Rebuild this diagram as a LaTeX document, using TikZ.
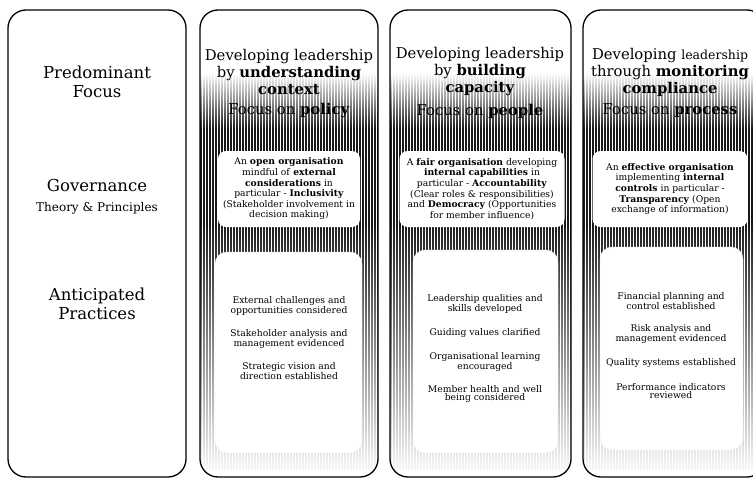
\documentclass[tikz,border=0pt]{standalone}
\usepackage{fontspec}
\setmainfont{DejaVu Serif}
\usetikzlibrary{positioning,fadings}
\tikzfading[name=fadeup, top color=transparent!100, bottom color=transparent!10]
\tikzfading[name=fadedown, top color=transparent!12, bottom color=transparent!97]

\begin{document}
\begin{tikzpicture}[x=1pt,y=-1pt,
  colbox/.style={draw,line width=1.3pt,rounded corners=18pt},
  stripe/.style={line width=1.2pt},
  sidetext/.style={align=center,inner sep=0pt,font=\fontsize{16.5}{19}\selectfont},
  headtext/.style={align=center,inner sep=0pt,font=\fontsize{14.8}{17}\selectfont},
  govbox/.style={fill=white,rounded corners=8pt,align=center,inner sep=0pt,
    font=\fontsize{9.2}{10.6}\selectfont},
  pracbox/.style={fill=white,draw=black!8,rounded corners=12pt},
  practext/.style={align=center,inner sep=0pt,font=\fontsize{9.2}{8.6}\selectfont}]
\useasboundingbox (0,0) rectangle (753,479);

% striped background of the three columns
\foreach \l/\r in {200/378,390/571,583/765}{
  \begin{scope}
    \clip[rounded corners=18pt] (\l,10) rectangle (\r,477);
    \draw[stripe,path fading=fadeup] foreach \x in {1,4,...,190} {(\l+\x,74) -- (\l+\x,128)};
    \draw[stripe,opacity=0.9] foreach \x in {1,4,...,190} {(\l+\x,128) -- (\l+\x,228)};
    \draw[stripe,path fading=fadedown] foreach \x in {1,4,...,190} {(\l+\x,228) -- (\l+\x,470)};
  \end{scope}
  \draw[colbox] (\l,10) rectangle (\r,477);
}
\draw[colbox] (8,10) rectangle (186,477);

% left column
\node[sidetext] (focus) at (97,82) {Predominant\\Focus};
\node[sidetext] (gov) at (97,185) {Governance};
\node[font=\fontsize{12}{14}\selectfont,inner sep=0pt] (theory) at (97,208) {Theory \& Principles};
\node[sidetext] (antic) at (97,304) {Anticipated\\Practices};

% headers
\node[headtext] (head1) at (289,72) {Developing leadership\\by \textbf{understanding}\\\textbf{context}};
\node[headtext] (pol) at (289,111) {Focus on \textbf{policy}};
\node[headtext] (head2) at (480,72) {Developing leadership\\by \textbf{building}\\\textbf{capacity}};
\node[headtext] (peo) at (480,111) {Focus on \textbf{people}};
\node[headtext] (head3) at (670,72) {Developing {\fontsize{12.5}{14}\selectfont leadership}\\through \textbf{monitoring}\\\textbf{compliance}};
\node[headtext] (pro) at (670,111) {Focus on \textbf{process}};

% governance boxes
\node[govbox,minimum width=142pt,minimum height=76pt] (gov1) at (289,189)
  {An \textbf{open organisation}\\mindful of \textbf{external}\\\textbf{considerations} in\\particular - \textbf{Inclusivity}\\(Stakeholder involvement in\\decision making)};
\node[govbox,minimum width=165pt,minimum height=76pt] (gov2) at (482,189)
  {A \textbf{fair organisation} developing\\\textbf{internal capabilities} in\\particular - \textbf{Accountability}\\(Clear roles \& responsibilities)\\and \textbf{Democracy} (Opportunities\\for member influence)};
\node[govbox,minimum width=155pt,minimum height=76pt] (gov3) at (670,189)
  {An \textbf{effective organisation}\\implementing \textbf{internal}\\\textbf{controls} in particular -\\\textbf{Transparency} (Open\\exchange of information)};

% practice boxes
\draw[pracbox] (215,252) rectangle (362,453);
\draw[pracbox] (413,250) rectangle (558,453);
\draw[pracbox] (600,247) rectangle (743,450);

\node[practext] (p11) at (289,306) {External challenges and\\opportunities considered};
\node[practext] (p12) at (289,339) {Stakeholder analysis and\\management evidenced};
\node[practext] (p13) at (289,371) {Strategic vision and\\direction established};

\node[practext] (p21) at (485,304) {Leadership qualities and\\skills developed};
\node[practext] (p22) at (485,333) {Guiding values clarified};
\node[practext] (p23) at (485,362) {Organisational learning\\encouraged};
\node[practext] (p24) at (485,394) {Member health and well\\being considered};

\node[practext] (p31) at (671,301) {Financial planning and\\control established};
\node[practext] (p32) at (671,334) {Risk analysis and\\management evidenced};
\node[practext] (p33) at (671,363) {Quality systems established};
\node[practext] (p34) at (671,391) {Performance indicators\\reviewed};
\end{tikzpicture}
\end{document}
